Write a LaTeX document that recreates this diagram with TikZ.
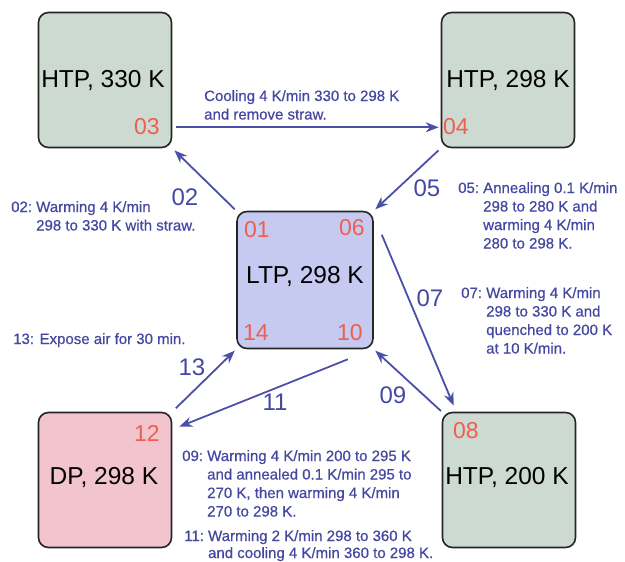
\documentclass[tikz,border=0pt]{standalone}
\usepackage{fontspec}
\setmainfont{Liberation Sans}
\newfontfamily\annotfont[FakeBold=0.6]{Liberation Sans}
\usetikzlibrary{arrows.meta}
\definecolor{arrblue}{HTML}{4A4FA8}
\definecolor{txtblue}{HTML}{4548A0}
\definecolor{htpfill}{HTML}{CCDAD2}
\definecolor{ltpfill}{HTML}{C6C9F0}
\definecolor{dpfill}{HTML}{F2C4CD}
\definecolor{numred}{HTML}{EE5F50}
\begin{document}
\begin{tikzpicture}[x=1pt,y=-1pt,
  statebox/.style={draw=black!85,line width=1.6pt,rounded corners=10pt,minimum width=133pt,minimum height=135pt,inner sep=0pt},
  boxtxt/.style={font=\fontsize{24.5}{27}\selectfont,inner sep=0pt},
  numlbl/.style={text=numred,font=\fontsize{23}{25}\selectfont,inner sep=0pt},
  arrlbl/.style={text=txtblue,font=\fontsize{24}{26}\selectfont,inner sep=0pt},
  annot/.style={text=txtblue,font=\annotfont\fontsize{15}{18.5}\selectfont,inner sep=0pt,anchor=base west},
  arr/.style={draw=arrblue,line width=1.8pt,-{Stealth[length=13pt,width=10pt]}}
]
\useasboundingbox (0,0) rectangle (625,562);
% boxes
\node[statebox,fill=htpfill] (b03) at (105,80) {};
\node[statebox,fill=htpfill] (b04) at (508,80) {};
\node[statebox,fill=ltpfill,minimum width=136pt,minimum height=137pt] (ltp) at (305,280) {};
\node[statebox,fill=dpfill] (dp) at (105,480) {};
\node[statebox,fill=htpfill] (b08) at (509,480) {};
% box texts
\node[boxtxt] (t03) at (103,81) {HTP, 330 K};
\node[boxtxt] (t04) at (508,81) {HTP, 298 K};
\node[boxtxt] (tltp) at (305,277) {LTP, 298 K};
\node[boxtxt] (tdp) at (104,478) {DP, 298 K};
\node[boxtxt] (t08) at (507,478) {HTP, 200 K};
% red numbers
\node[numlbl] (n03) at (147,127) {03};
\node[numlbl] (n04) at (456,127) {04};
\node[numlbl] (n01) at (257,230) {01};
\node[numlbl] (n06) at (352,228) {06};
\node[numlbl] (n14) at (256,333) {14};
\node[numlbl] (n10) at (350,333) {10};
\node[numlbl] (n12) at (147,433) {12};
\node[numlbl] (n08) at (466,431) {08};
% arrows
\draw[arr] ([xshift=4pt,yshift=21pt]b03.south east) -- ([xshift=-2pt,yshift=21pt]b04.south west);
\draw[arr,shorten <=2pt,shorten >=3pt] (ltp.north west) -- (b03.south east);
\draw[arr,shorten <=3pt,shorten >=2pt] (b04.south west) -- (ltp.north east);
\draw[arr] ([xshift=8pt,yshift=-24pt]ltp.north east) -- ([xshift=12pt,yshift=6pt]b08.north west);
\draw[arr,shorten <=1pt,shorten >=2pt] (b08.north west) -- (ltp.south east);
\draw[arr] ([xshift=-26pt,yshift=-10pt]ltp.south east) -- ([xshift=7pt,yshift=-15pt]dp.north east);
\draw[arr,shorten <=5pt,shorten >=2pt] (dp.north east) -- (ltp.south west);
% arrow labels
\node[arrlbl] (l02) at (185,197) {02};
\node[arrlbl] (l05) at (427,188) {05};
\node[arrlbl] (l07) at (430,298) {07};
\node[arrlbl] (l09) at (393,395) {09};
\node[arrlbl] (l11) at (275,402) {11};
\node[arrlbl] (l13) at (192,367) {13};
% annotations
\node[annot] (a34) at (204,101) {\begin{tabular}[t]{@{}l@{}}Cooling 4 K/min 330 to 298 K\\and remove straw.\end{tabular}};
\node[annot] (a02) at (11,212) {\begin{tabular}[t]{@{}l@{\ }l@{}}02: & Warming 4 K/min\\ & 298 to 330 K with straw.\end{tabular}};
\node[annot] (a13) at (13,344) {13: Expose air for 30 min.};
\node[annot] (a05) at (458,193) {\begin{tabular}[t]{@{}l@{\ }l@{}}05: & Annealing 0.1 K/min\\ & 298 to 280 K and\\ & warming 4 K/min\\ & 280 to 298 K.\end{tabular}};
\node[annot] (a07) at (461,298) {\begin{tabular}[t]{@{}l@{\ }l@{}}07: & Warming 4 K/min\\ & 298 to 330 K and\\ & quenched to 200 K\\ & at 10 K/min.\end{tabular}};
\node[annot] (a09) at (182,461) {\begin{tabular}[t]{@{}l@{\ }l@{}}09: & Warming 4 K/min 200 to 295 K\\ & and annealed 0.1 K/min 295 to\\ & 270 K, then warming 4 K/min\\ & 270 to 298 K.\end{tabular}};
\node[annot,font=\annotfont\fontsize{15}{17}\selectfont] (a11) at (184,541) {\begin{tabular}[t]{@{}l@{\ }l@{}}11: & Warming 2 K/min 298 to 360 K\\ & and cooling 4 K/min 360 to 298 K.\end{tabular}};
\end{tikzpicture}
\end{document}
